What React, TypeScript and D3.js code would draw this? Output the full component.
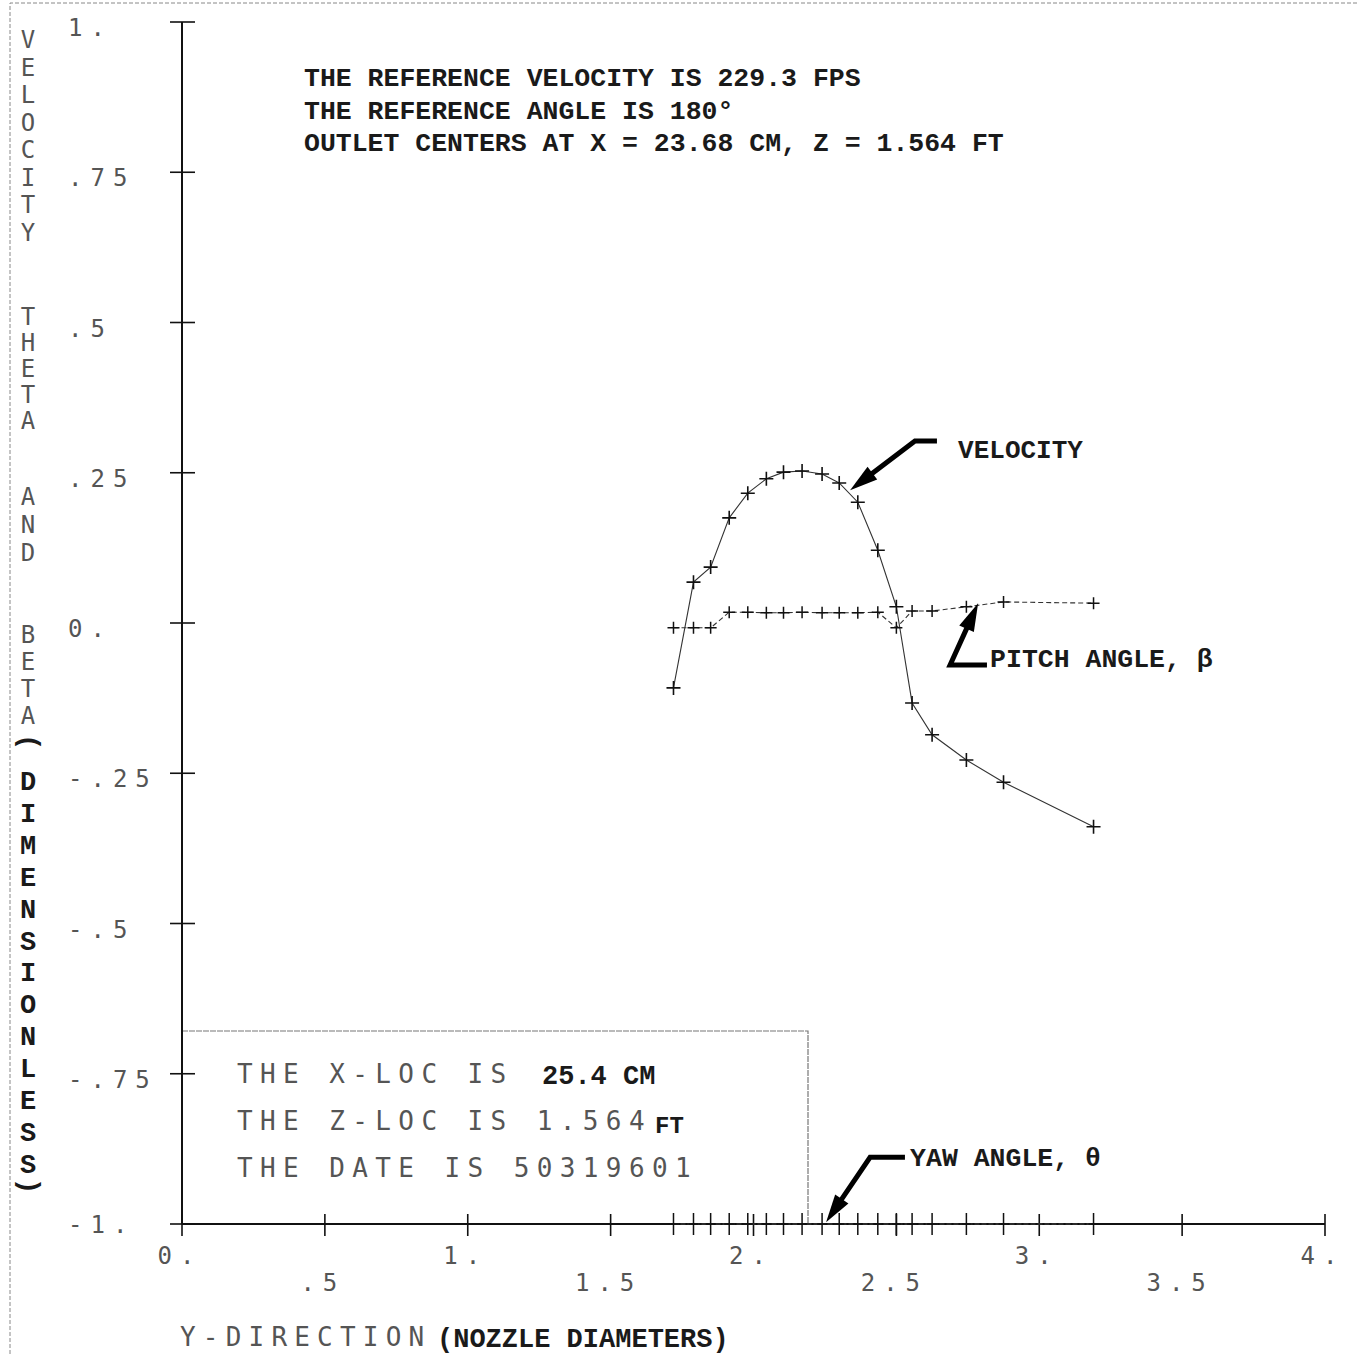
import React from 'react';
import * as d3 from 'd3';

// y-direction positions (nozzle diameters), shared by the three traverses
const yPos = [1.72, 1.79, 1.85, 1.915, 1.98, 2.045, 2.105, 2.17, 2.24, 2.3, 2.365, 2.435, 2.5, 2.555, 2.625, 2.745, 2.875, 3.19];
const velocity = [-0.108, 0.068, 0.093, 0.175, 0.216, 0.24, 0.251, 0.253, 0.248, 0.233, 0.201, 0.121, 0.027, -0.133, -0.186, -0.228, -0.265, -0.339];
const pitch = [-0.008, -0.008, -0.008, 0.018, 0.018, 0.017, 0.017, 0.018, 0.017, 0.017, 0.017, 0.018, -0.008, 0.02, 0.02, 0.027, 0.035, 0.033];
const yaw = [-1, -1, -1, -1, -1, -1, -1, -1, -1, -1, -1, -1, -1, -1, -1, -1, -1, -1];

const xTicks = [0, 0.5, 1, 1.5, 2, 2.5, 3, 3.5, 4];
const xTickLabels = ['0.', '.5', '1.', '1.5', '2.', '2.5', '3.', '3.5', '4.'];
const yTicks = [1, 0.75, 0.5, 0.25, 0, -0.25, -0.5, -0.75, -1];
const yTickLabels = ['1.', '.75', '.5', '.25', '0.', '-.25', '-.5', '-.75', '-1.'];

const header = [
  'THE REFERENCE VELOCITY IS 229.3 FPS',
  'THE REFERENCE ANGLE IS 180\u00b0',
  'OUTLET CENTERS AT X = 23.68 CM, Z = 1.564 FT',
];

const W = 1357, H = 1354;
const plotter = "'DejaVu Sans Mono', monospace";
const typer = "'Liberation Mono', monospace";
const ink = '#1a1a1a';
const pen = '#555';

const x = d3.scaleLinear().domain([0, 4]).range([182, 1325]);
const y = d3.scaleLinear().domain([-1, 1]).range([1224, 22]);

const line = d3.line<number>().x((d, i) => x(yPos[i])).y(d => y(d));

function cross(sx: number, sy: number) {
  return `M${-sx},0H${sx}M0,${-sy}V${sy}`;
}

// annotation arrow: tail end -> elbow -> tip (data units)
function Arrow({ pts }: { pts: [number, number][] }) {
  const p = pts.map(([a, b]) => [x(a), y(b)]);
  const tip = p[p.length - 1];
  const prev = p[p.length - 2];
  const dx = tip[0] - prev[0], dy = tip[1] - prev[1];
  const len = Math.hypot(dx, dy);
  const ux = dx / len, uy = dy / len;
  const hl = 28, hw = 8;
  const bx = tip[0] - ux * hl, by = tip[1] - uy * hl;
  const shaft = p.slice(0, -1).concat([[bx + ux * 2, by + uy * 2]]);
  const head = `M${tip[0]},${tip[1]}L${bx - uy * hw},${by + ux * hw}L${bx + uy * hw},${by - ux * hw}Z`;
  return (
    <g>
      <path d={d3.line()(shaft as [number, number][]) || ''} fill="none" stroke="#000" strokeWidth={5} strokeLinejoin="miter" />
      <path d={head} fill="#000" />
    </g>
  );
}

const titleLetters: { ch: string; cy: number; bold: boolean; rot?: boolean }[] = [
  ...'VELOCITY'.split('').map((ch, i) => ({ ch, cy: 40 + i * 27.5, bold: false })),
  ...'THETA'.split('').map((ch, i) => ({ ch, cy: 317 + i * 26, bold: false })),
  ...'AND'.split('').map((ch, i) => ({ ch, cy: 497 + i * 28, bold: false })),
  ...'BETA'.split('').map((ch, i) => ({ ch, cy: 635 + i * 27, bold: false })),
  { ch: '(', cy: 742, bold: true, rot: true },
  ...'DIMENSIONLESS'.split('').map((ch, i) => ({ ch, cy: 783 + i * 31.9, bold: true })),
  { ch: ')', cy: 1186, bold: true, rot: true },
];

export default function App() {
  return (
    <svg width={W} height={H} style={{ position: 'absolute', left: 0, top: 0, background: '#fff' }}>
      {/* scan frame */}
      <path d={`M10,${H}V3H${W}`} fill="none" stroke="#888" strokeWidth={1} strokeDasharray="4 2" />

      {/* header */}
      {header.map((t, i) => (
        <text key={i} x={304} y={86 + i * 32.5} fontFamily={typer} fontWeight="bold" fontSize={26.5} fill={ink}>{t}</text>
      ))}

      {/* box */}
      <path d={`M${x(0)},1031H808V${y(-1)}`} fill="none" stroke="#777" strokeWidth={1.2} strokeDasharray="6 1" />
      <g fontFamily={plotter} fontSize={26} fill={pen} letterSpacing={7.4}>
        <text x={237} y={1083}>THE X-LOC IS</text>
        <text x={237} y={1130}>THE Z-LOC IS 1.564</text>
        <text x={237} y={1177}>THE DATE IS 50319601</text>
      </g>
      <text x={542} y={1084} fontFamily={typer} fontWeight="bold" fontSize={27} fill={ink}>25.4 CM</text>
      <text x={655} y={1133} fontFamily={typer} fontWeight="bold" fontSize={24} fill={ink}>FT</text>

      {/* axes */}
      <line x1={x(0)} x2={x(0)} y1={y(1)} y2={y(-1)} stroke="#111" strokeWidth={2} />
      <line x1={x(0)} x2={x(4)} y1={y(-1)} y2={y(-1)} stroke="#111" strokeWidth={2} />
      {yTicks.map(t => (
        <line key={t} x1={x(0) - 12} x2={x(0) + 13} y1={y(t)} y2={y(t)} stroke="#111" strokeWidth={1.6} />
      ))}
      {xTicks.map(t => (
        <line key={t} x1={x(t)} x2={x(t)} y1={y(-1) - 10} y2={y(-1) + 12} stroke="#111" strokeWidth={1.6} />
      ))}
      <g fontFamily={plotter} fontSize={24} fill={pen} letterSpacing={8}>
        {yTicks.map((t, i) => (
          <text key={t} x={68} y={y(t) + (t === -1 ? 9 : 14)}>{yTickLabels[i]}</text>
        ))}
        {xTicks.map((t, i) => (
          <text key={t} x={x(t) - 2} y={i % 2 === 0 ? 1264 : 1291} textAnchor="middle">{xTickLabels[i]}</text>
        ))}
      </g>

      {/* axis titles */}
      <text x={180} y={1346} fontFamily={plotter} fontSize={26} fill={pen} letterSpacing={7.2}>Y-DIRECTION</text>
      <text x={437} y={1347} fontFamily={typer} fontWeight="bold" fontSize={27} fill={ink}>(NOZZLE DIAMETERS)</text>
      {titleLetters.map((l, i) => (
        <text key={i} x={28} y={l.cy} textAnchor="middle" dominantBaseline="central"
          transform={l.rot ? `rotate(90 28 ${l.cy})` : undefined}
          fontFamily={l.bold ? typer : plotter} fontWeight={l.bold ? 'bold' : 'normal'}
          fontSize={l.bold ? 27 : 24} fill={l.bold ? ink : pen}>{l.ch}</text>
      ))}

      {/* data */}
      <path d={line(yaw) || ''} fill="none" stroke="#444" strokeWidth={1.2} strokeDasharray="5 2" />
      <path d={line(pitch) || ''} fill="none" stroke="#333" strokeWidth={1.1} strokeDasharray="5 3" />
      <path d={line(velocity) || ''} fill="none" stroke="#333" strokeWidth={1.1} />
      {velocity.map((v, i) => (
        <path key={'v' + i} d={cross(7, 7)} transform={`translate(${x(yPos[i])},${y(v)})`} stroke="#111" strokeWidth={1.6} />
      ))}
      {pitch.map((v, i) => (
        <path key={'p' + i} d={cross(6, 6)} transform={`translate(${x(yPos[i])},${y(v)})`} stroke="#111" strokeWidth={1.5} />
      ))}
      {yaw.map((v, i) => (
        <path key={'w' + i} d={cross(5, 11)} transform={`translate(${x(yPos[i])},${y(v)})`} stroke="#111" strokeWidth={1.5} />
      ))}

      {/* annotations */}
      <Arrow pts={[[2.642, 0.303], [2.565, 0.303], [2.338, 0.221]]} />
      <text x={x(2.716)} y={y(0.275)} fontFamily={typer} fontWeight="bold" fontSize={26} fill={ink}>VELOCITY</text>
      <Arrow pts={[[2.817, -0.07], [2.688, -0.07], [2.786, 0.033]]} />
      <text x={x(2.828)} y={y(-0.07) + 2} fontFamily={typer} fontWeight="bold" fontSize={26.5} fill={ink}>PITCH ANGLE, {'\u03b2'}</text>
      <Arrow pts={[[2.53, -0.889], [2.408, -0.889], [2.254, -0.997]]} />
      <text x={x(2.548)} y={y(-0.889) + 9} fontFamily={typer} fontWeight="bold" fontSize={26.5} fill={ink}>YAW ANGLE, {'\u03b8'}</text>
    </svg>
  );
}
